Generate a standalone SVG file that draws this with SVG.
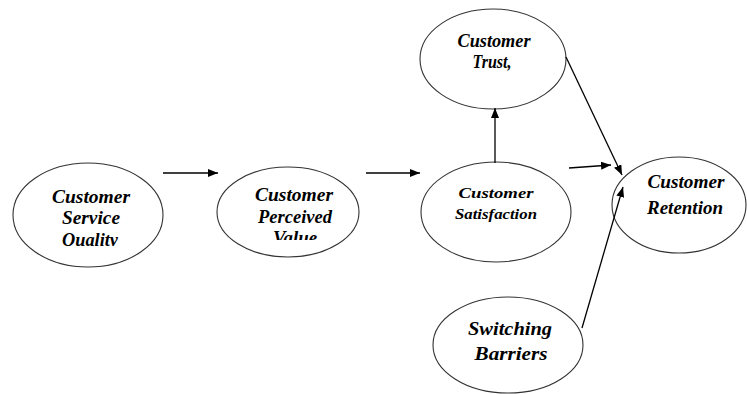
<svg xmlns="http://www.w3.org/2000/svg" width="747" height="394" viewBox="0 0 747 394">
<style>
.node ellipse{fill:#fff;stroke:#333;stroke-width:1.1}
.node text{font-family:'Liberation Serif','Times New Roman',serif;font-style:italic;font-weight:bold;font-size:18px;fill:#000;text-anchor:middle}
.node text.sm{font-size:15px}
.conn line{stroke:#000;stroke-width:1.3}
</style>
<defs>
<marker id="ah" viewBox="0 0 10 8" refX="10" refY="4" markerWidth="10" markerHeight="8" markerUnits="userSpaceOnUse" orient="auto">
<path d="M0,0 L10,4 L0,8 z" fill="#000"/>
</marker>
<clipPath id="clipQ"><rect x="40" y="228" width="100" height="18"/></clipPath>
<clipPath id="clipV"><rect x="250" y="224" width="90" height="16"/></clipPath>
</defs>
<rect width="747" height="394" fill="#fff"/>
<g id="n-quality" class="node">
<ellipse cx="88" cy="215" rx="75" ry="52"/>
<text x="91" y="203" textLength="78" lengthAdjust="spacingAndGlyphs">Customer</text>
<text x="91" y="224" textLength="58" lengthAdjust="spacingAndGlyphs">Service</text>
<text x="90" y="246" textLength="56" lengthAdjust="spacingAndGlyphs" clip-path="url(#clipQ)">Quality</text>
</g>
<g id="n-value" class="node">
<ellipse cx="288" cy="212" rx="71" ry="45"/>
<text x="294" y="201" textLength="78" lengthAdjust="spacingAndGlyphs">Customer</text>
<text x="295" y="223" textLength="74" lengthAdjust="spacingAndGlyphs">Perceived</text>
<text x="295" y="244" textLength="44" lengthAdjust="spacingAndGlyphs" clip-path="url(#clipV)">Value</text>
</g>
<g id="n-trust" class="node">
<ellipse cx="493" cy="59" rx="73" ry="50"/>
<text x="494" y="47" textLength="73" lengthAdjust="spacingAndGlyphs">Customer</text>
<text x="492" y="68" textLength="39" lengthAdjust="spacingAndGlyphs">Trust,</text>
</g>
<g id="n-satisfaction" class="node">
<ellipse cx="496" cy="212" rx="75" ry="50"/>
<text class="sm" x="496" y="198" textLength="75" lengthAdjust="spacingAndGlyphs">Customer</text>
<text class="sm" x="496" y="219" textLength="82" lengthAdjust="spacingAndGlyphs">Satisfaction</text>
</g>
<g id="n-retention" class="node">
<ellipse cx="679" cy="205" rx="67" ry="48"/>
<text x="686" y="188" textLength="77" lengthAdjust="spacingAndGlyphs">Customer</text>
<text x="685" y="214" textLength="76" lengthAdjust="spacingAndGlyphs">Retention</text>
</g>
<g id="n-switching" class="node">
<ellipse cx="508" cy="345" rx="75" ry="48"/>
<text x="510" y="335" textLength="84" lengthAdjust="spacingAndGlyphs">Switching</text>
<text x="511" y="360" textLength="73" lengthAdjust="spacingAndGlyphs">Barriers</text>
</g>
<g id="connectors" class="conn">
<line x1="163" y1="173" x2="218" y2="173" marker-end="url(#ah)"/>
<line x1="366" y1="173" x2="420" y2="173" marker-end="url(#ah)"/>
<line x1="495" y1="163" x2="495" y2="108" marker-end="url(#ah)"/>
<line x1="566" y1="57" x2="622" y2="175" marker-end="url(#ah)"/>
<line x1="569" y1="168" x2="611" y2="165" marker-end="url(#ah)"/>
<line x1="582" y1="328" x2="623" y2="187" marker-end="url(#ah)"/>
</g>
</svg>
